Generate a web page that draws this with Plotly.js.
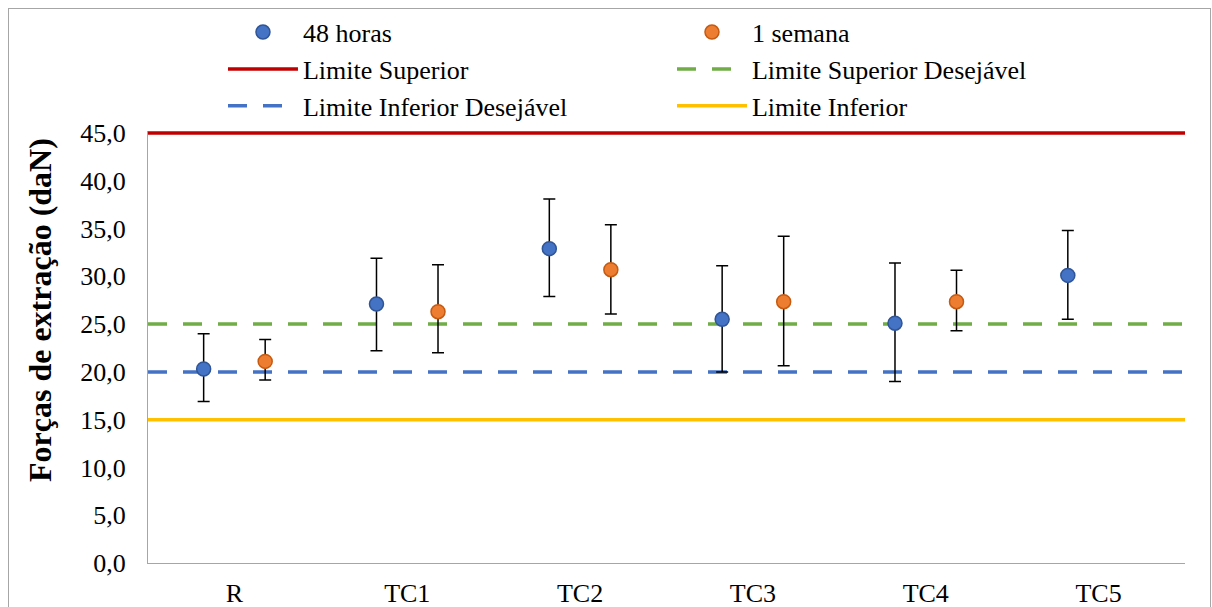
<!DOCTYPE html>
<html>
<head>
<meta charset="utf-8">
<script src="https://cdn.plot.ly/plotly-3.0.1.min.js"></script>
<style>
body{margin:0;padding:0;background:#fff;}
#frame{position:absolute;left:8px;top:8px;width:1201px;height:640px;border:1.5px solid #A6A6A6;pointer-events:none;}
#chart{position:absolute;left:0;top:0;width:1212px;height:607px;}
</style>
</head>
<body>
<div id="chart"></div>
<div id="frame"></div>
<script>
const categories = ["R", "TC1", "TC2", "TC3", "TC4", "TC5"];
const h48 = [20.3, 27.1, 32.9, 25.5, 25.1, 30.1];
const h48Plus = [3.7, 4.8, 5.2, 5.6, 6.3, 4.7];
const h48Minus = [3.4, 4.9, 5.0, 5.5, 6.1, 4.6];
const semana = [21.1, 26.3, 30.7, 27.35, 27.35];
const semanaPlus = [2.3, 4.9, 4.7, 6.85, 3.3];
const semanaMinus = [1.95, 4.3, 4.64, 6.7, 3.05];
const limiteSuperior = 45;
const limiteSuperiorDesejavel = 25;
const limiteInferiorDesejavel = 20;
const limiteInferior = 15;
const yTicks = [0, 5, 10, 15, 20, 25, 30, 35, 40, 45];
const yTitle = "Forças de extração (daN)";

const idx = categories.map((c, i) => i);
const off = 0.178;
const xSpan = [-0.5, categories.length - 0.5];
const font = "Liberation Serif";

const traces = [
  {
    name: "48 horas", type: "scatter", mode: "markers",
    x: h48.map((v, i) => i - off), y: h48,
    marker: {size: 14, color: "#4472C4", line: {color: "#2F5597", width: 1.5}},
    error_y: {type: "data", symmetric: false, array: h48Plus, arrayminus: h48Minus, color: "#000", thickness: 1.5, width: 6}
  },
  {
    name: "1 semana", type: "scatter", mode: "markers",
    x: semana.map((v, i) => i + off), y: semana,
    marker: {size: 14, color: "#ED7D31", line: {color: "#C55A11", width: 1.5}},
    error_y: {type: "data", symmetric: false, array: semanaPlus, arrayminus: semanaMinus, color: "#000", thickness: 1.5, width: 6}
  },
  {
    name: "Limite Superior", type: "scatter", mode: "lines",
    x: xSpan, y: [limiteSuperior, limiteSuperior],
    line: {color: "#C00000", width: 3.5}
  },
  {
    name: "Limite Superior Desejável", type: "scatter", mode: "lines",
    x: xSpan, y: [limiteSuperiorDesejavel, limiteSuperiorDesejavel],
    line: {color: "#70AD47", width: 3.5, dash: "19px,16px"}
  },
  {
    name: "Limite Inferior Desejável", type: "scatter", mode: "lines",
    x: xSpan, y: [limiteInferiorDesejavel, limiteInferiorDesejavel],
    line: {color: "#4472C4", width: 3.5, dash: "19px,16px"}
  },
  {
    name: "Limite Inferior", type: "scatter", mode: "lines",
    x: xSpan, y: [limiteInferior, limiteInferior],
    line: {color: "#FFC000", width: 3.5}
  }
];
const ordered = [traces[2], traces[3], traces[4], traces[5], traces[0], traces[1]];
ordered.forEach((t, k) => t.legendrank = [3,4,5,6,1,2][k]);

const layout = {
  width: 1212, height: 607,
  margin: {l: 148, r: 27, t: 131, b: 44, pad: 0},
  paper_bgcolor: "#fff", plot_bgcolor: "#fff",
  separators: ",.",
  showlegend: true,
  legend: {
    orientation: "h", x: 0.0723, xanchor: "left",
    yref: "container", y: 0.9857, yanchor: "top",
    entrywidth: 364, entrywidthmode: "pixels", itemwidth: 70,
    font: {family: font, size: 26, color: "#000"},
    traceorder: "normal", bgcolor: "rgba(0,0,0,0)"
  },
  xaxis: {
    range: xSpan, tickvals: idx, ticktext: categories,
    showgrid: false, zeroline: false, showline: true, linecolor: "#A6A6A6", linewidth: 1,
    ticks: "", ticklabelstandoff: 7, tickfont: {family: font, size: 26, color: "#000"}
  },
  yaxis: {
    range: [0, 45.21], tickvals: yTicks, tickformat: ".1f",
    showgrid: false, zeroline: false, showline: true, linecolor: "#A6A6A6", linewidth: 1,
    ticks: "", ticklabelstandoff: 16, tickfont: {family: font, size: 26, color: "#000"}
  },
  annotations: [{
    text: "<b>" + yTitle + "</b>", textangle: -90, showarrow: false,
    xref: "paper", yref: "paper", x: -0.104, y: 0.586, xanchor: "center", yanchor: "middle",
    font: {family: font, size: 32, color: "#000"}
  }]
};

Plotly.newPlot("chart", ordered, layout, {displayModeBar: false});
</script>
</body>
</html>
